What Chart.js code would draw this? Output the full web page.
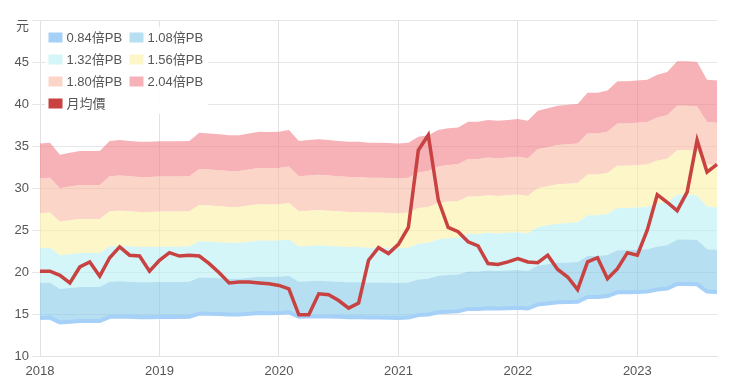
<!DOCTYPE html>
<html>
<head>
<meta charset="utf-8">
<script src="https://cdn.jsdelivr.net/npm/chart.js@4/dist/chart.umd.min.js"></script>
<style>
  html, body { margin: 0; padding: 0; background: #fff; }
  #wrap { width: 740px; height: 386px; position: relative; }
</style>
</head>
<body>
<div id="wrap"><canvas id="myChart"></canvas></div>
<script>
// months 2018-01 .. 2023-09
const months = [];
for (let y = 2018; y <= 2023; y++) {
  for (let m = 1; m <= 12; m++) {
    if (y === 2023 && m > 9) break;
    months.push(y + '-' + (m < 10 ? '0' + m : m));
  }
}

const bps = [
  17.30, 17.35, 16.65, 16.76, 16.86, 16.86, 16.86, 17.45, 17.50, 17.45, 17.40, 17.40,
  17.43, 17.43, 17.43, 17.45, 17.93, 17.89, 17.84, 17.79, 17.79, 17.89, 17.99, 17.97,
  17.99, 18.09, 17.45, 17.50, 17.55, 17.50, 17.45, 17.40, 17.40, 17.35, 17.35, 17.33,
  17.30, 17.35, 17.70, 17.79, 18.09, 18.19, 18.24, 18.58, 18.58, 18.68, 18.63, 18.68,
  18.73, 18.63, 19.22, 19.36, 19.51, 19.56, 19.61, 20.27, 20.27, 20.39, 20.93, 20.93,
  20.98, 21.03, 21.32, 21.47, 22.11, 22.11, 22.06, 21.03, 20.98
];

// monthly average price
const price = [
  20.1, 20.1, 19.6, 18.7, 20.6, 21.2, 19.5, 21.7, 23.0, 22.0, 21.9, 20.1,
  21.4, 22.3, 21.9, 22.0, 21.9, 21.0, 19.9, 18.7, 18.8, 18.8, 18.7, 18.6,
  18.4, 18.0, 14.9, 14.9, 17.4, 17.3, 16.6, 15.7, 16.3, 21.4, 22.9, 22.2,
  23.3, 25.3, 34.5, 36.3, 28.6, 25.3, 24.8, 23.6, 23.1, 21.0, 20.9, 21.2,
  21.6, 21.2, 21.1, 22.0, 20.3, 19.4, 17.9, 21.2, 21.7, 19.2, 20.4, 22.3,
  22.0, 25.0, 29.2, 28.3, 27.3, 29.5, 35.7, 31.9, 32.8
];

const multipliers = [0.84, 1.08, 1.32, 1.56, 1.80, 2.04];
const bandColors = ['#a5d0f8', 'rgba(133,203,232,0.6)', 'rgba(183,240,243,0.6)',
  'rgba(250,240,163,0.6)', 'rgba(248,185,163,0.6)', 'rgba(240,127,135,0.6)'];
const legendColors = ['#a5d0f8', '#b6e0f1', '#d4f6f8', '#fdf6c8', '#fbd5c8', '#f6b2b7'];
const priceColor = '#c84242';

const FONT = "'Liberation Sans', Arial, 'Noto Sans CJK TC', sans-serif";

const datasets = [];
for (let k = 0; k < multipliers.length; k++) {
  datasets.push({
    label: multipliers[k].toFixed(2) + '倍PB',
    data: bps.map(function (b) { return +(b * multipliers[k]).toFixed(2); }),
    borderColor: k === 0 ? bandColors[0] : 'transparent',
    borderWidth: k === 0 ? 4 : 0,
    backgroundColor: bandColors[k],
    legendColor: legendColors[k],
    fill: k === 0 ? false : '-1',
    pointRadius: 0,
    tension: 0
  });
}
datasets.push({
  label: '月均價',
  data: price,
  borderColor: priceColor,
  backgroundColor: priceColor,
  legendColor: priceColor,
  borderWidth: 3.5,
  fill: false,
  pointRadius: 0,
  tension: 0,
  order: -1
});

// legend drawn inside the plot, two columns
const legendBox = {
  id: 'legendBox',
  afterDatasetsDraw: function (chart) {
    var ctx = chart.ctx;
    var items = chart.data.datasets;
    ctx.save();
    ctx.fillStyle = 'rgba(255,255,255,0.92)';
    ctx.fillRect(45, 27, 163, 87);
    ctx.font = '13px ' + FONT;
    ctx.textBaseline = 'middle';
    ctx.textAlign = 'left';
    for (var i = 0; i < items.length; i++) {
      var col = i % 2, row = Math.floor(i / 2);
      var x = 48.5 + col * 81, y = 37.5 + row * 22;
      ctx.fillStyle = items[i].legendColor;
      ctx.fillRect(x, y - 5, 14, 10);
      ctx.fillStyle = '#555';
      ctx.fillText(items[i].label, x + 18, y + 0.5);
    }
    ctx.restore();
  }
};

var ctx = document.getElementById('myChart').getContext('2d');
var chart = new Chart(ctx, {
  type: 'line',
  data: { labels: months, datasets: datasets },
  plugins: [legendBox],
  options: {
    responsive: true,
    maintainAspectRatio: false,
    animation: false,
    layout: { padding: { top: 20, right: 23, bottom: 0, left: 0 } },
    plugins: {
      legend: { display: false },
      tooltip: { enabled: false }
    },
    scales: {
      x: {
        grid: {
          drawTicks: false,
          color: function (c) {
            var lab = months[c.index];
            return lab && lab.slice(5) === '01' ? '#e2e2e2' : 'transparent';
          }
        },
        border: { color: '#e2e2e2' },
        ticks: {
          autoSkip: false,
          maxRotation: 0,
          padding: 8,
          color: '#555',
          font: { size: 13, family: FONT },
          callback: function (v, i) {
            var lab = months[i];
            return lab.slice(5) === '01' ? lab.slice(0, 4) : '';
          }
        },
        afterFit: function (s) { s.height = 30; }
      },
      y: {
        min: 10,
        max: 50,
        grid: { color: '#e6e6e6', tickLength: 8 },
        border: { display: false },
        ticks: {
          stepSize: 5,
          padding: 3,
          color: '#555',
          font: { size: 13, family: FONT, lineHeight: 1 },
          callback: function (v) { return v === 50 ? ['', '元'] : v; }
        },
        afterFit: function (s) { s.width = 40; }
      }
    }
  }
});
</script>
</body>
</html>
